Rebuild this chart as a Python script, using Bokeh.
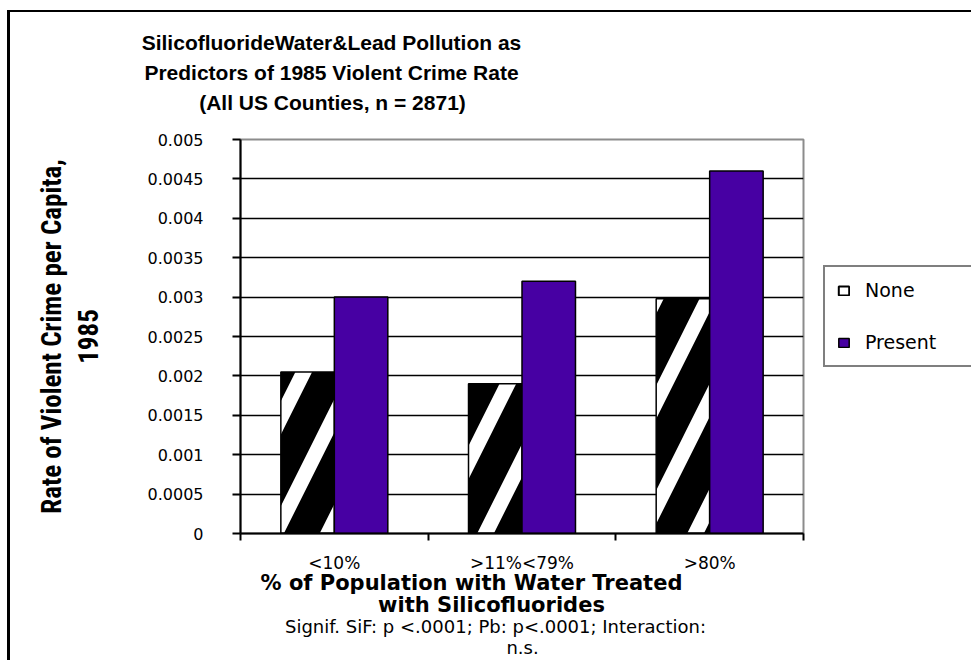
from bokeh.plotting import figure
from bokeh.models import FixedTicker, Legend, LegendItem, ColumnDataSource, LinearAxis
from bokeh.embed import file_html
from bokeh.resources import INLINE

# ---------------- data ----------------
categories = ["<10%", ">11%<79%", ">80%"]
none_values = [0.00205, 0.0019, 0.00298]
present_values = [0.0030, 0.0032, 0.0046]
series_names = ["None", "Present"]
y_ticks = [0, 0.0005, 0.001, 0.0015, 0.002, 0.0025, 0.003, 0.0035, 0.004, 0.0045, 0.005]
y_tick_labels = ["0", "0.0005", "0.001", "0.0015", "0.002", "0.0025", "0.003",
                 "0.0035", "0.004", "0.0045", "0.005"]
title_lines = ["SilicofluorideWater&Lead Pollution as",
               "Predictors of 1985 Violent Crime Rate",
               "(All US Counties, n = 2871)"]
y_title = "Rate of Violent Crime per Capita,\n1985"
x_title_lines = ["% of Population with Water Treated", "with Silicofluorides"]
note_lines = ["Signif. SiF: p <.0001; Pb: p<.0001; Interaction:", "n.s."]

# ---------------- layout constants (page px) ----------------
OX, OY = 10, 12            # canvas origin on the page
CW, CH = 958, 648          # intended canvas size
FL, FT, FW, FH = 240, 139, 563, 394   # plot frame on the page
NCAT = len(categories)
YMAX = y_ticks[-1]
BAR_W = 0.285
COND_FONT = "Roboto Condensed, DejaVu Sans Condensed, Liberation Sans Narrow, sans-serif"


def dx(px):
    """page x (px) -> data x"""
    return (px - FL) / FW * NCAT


p = figure(frame_width=FW, frame_height=FH, x_range=(0, NCAT), y_range=(0, YMAX),
           output_backend="svg", toolbar_location=None,
           min_border_left=FL - OX, min_border_right=CW - (FL - OX) - FW,
           min_border_top=FT - OY, min_border_bottom=CH - (FT - OY) - FH)
p.styles = {"margin-left": "7px", "margin-top": "10px",
            "border-left": "3px solid black", "border-top": "2px solid black"}
p.background_fill_color = "white"
p.border_fill_color = "white"
p.outline_line_color = "#8c8c8c"
p.outline_line_width = 2

idx = list(range(NCAT))
src = ColumnDataSource(dict(
    cat=categories,
    x_none=[i + 0.5 - BAR_W / 2 for i in idx],
    x_present=[i + 0.5 + BAR_W / 2 for i in idx],
    none=none_values,
    present=present_values,
))

r_none = p.vbar(x="x_none", top="none", width=BAR_W, source=src,
                fill_color="white", hatch_pattern="right_diagonal_line",
                hatch_color="black", hatch_scale=105, hatch_weight=32,
                line_color="black", line_width=1.5)
r_present = p.vbar(x="x_present", top="present", width=BAR_W, source=src,
                   fill_color="#4700A3", line_color="black", line_width=1.5)
# legend key for "None": plain white box (zero-height, hidden under the axis)
r_none_key = p.vbar(x="x_none", top=0, bottom=0, width=BAR_W, source=src,
                    fill_color="white", line_color="black", line_width=2)

# ---------------- axes ----------------
yax = p.yaxis[0]
yax.ticker = FixedTicker(ticks=y_ticks)
yax.major_label_overrides = {t: l for t, l in zip(y_ticks, y_tick_labels)}
yax.major_tick_out = 8
yax.major_tick_in = 0
yax.minor_tick_out = 0
yax.minor_tick_in = 0
yax.axis_line_width = 2
yax.major_tick_line_width = 2
yax.major_label_standoff = 29
yax.major_label_text_font = "DejaVu Sans"
yax.major_label_text_font_size = "16px"
yax.major_label_text_color = "black"
yax.axis_label = y_title
yax.axis_label_text_font = COND_FONT
yax.axis_label_text_font_style = "bold"
yax.axis_label_text_font_size = "27px"
yax.axis_label_text_line_height = 1.15
yax.axis_label_standoff = 40
yax.axis_label_text_color = "black"

xax = p.xaxis[0]
centers = [i + 0.5 for i in idx]
bounds = list(range(NCAT + 1))
xax.ticker = FixedTicker(ticks=centers, minor_ticks=bounds)
xax.major_label_overrides = {c: l for c, l in zip(centers, categories)}
xax.major_tick_out = 0
xax.major_tick_in = 0
xax.minor_tick_out = 7
xax.minor_tick_in = 0
xax.minor_tick_line_width = 2
xax.minor_tick_line_color = "black"
xax.axis_line_width = 2
xax.major_label_standoff = 12
xax.major_label_text_font = "DejaVu Sans"
xax.major_label_text_font_size = "17px"
xax.major_label_text_color = "black"

p.xgrid.visible = False
p.ygrid.ticker = FixedTicker(ticks=y_ticks)
p.ygrid.grid_line_color = "black"
p.ygrid.grid_line_width = 1.5


# ---------------- free text lines, each carried by a bare axis ----------------
def text_axis(text, center_px, place, standoff, font, size, bold):
    t = dx(center_px)
    ax = LinearAxis(ticker=FixedTicker(ticks=[t], minor_ticks=[]),
                    major_label_overrides={t: text})
    ax.axis_line_color = None
    ax.major_tick_line_color = None
    ax.minor_tick_line_color = None
    ax.major_tick_in = 0
    ax.major_tick_out = 0
    ax.minor_tick_in = 0
    ax.minor_tick_out = 0
    ax.major_label_standoff = standoff
    ax.major_label_text_font = font
    ax.major_label_text_font_size = size
    ax.major_label_text_font_style = "bold" if bold else "normal"
    ax.major_label_text_color = "black"
    p.add_layout(ax, place)


# title: closest line first (stacked outward from the frame)
title_centers = [331, 331, 332]
title_standoffs = [4, 4, 26]
for line, cx, so in reversed(list(zip(title_lines, title_centers, title_standoffs))):
    text_axis(line, cx, "above", so, "Liberation Sans", "21px", True)

for line, cx, so in zip(x_title_lines, [471, 491], [-5, -5]):
    text_axis(line, cx, "below", so, "DejaVu Sans", "21px", True)

for line, cx, so in zip(note_lines, [495, 522], [-4, -3]):
    text_axis(line, cx, "below", so, "DejaVu Sans", "18px", False)

# ---------------- legend ----------------
legend = Legend(items=[LegendItem(label=series_names[0], renderers=[r_none_key]),
                       LegendItem(label=series_names[1], renderers=[r_present])],
                location=(20, FT + FH - 367),
                orientation="vertical",
                border_line_color="black", border_line_width=2,
                background_fill_color="white", background_fill_alpha=1,
                glyph_width=13, glyph_height=11, label_standoff=15,
                label_width=95, label_height=20, spacing=30, padding=12, margin=0,
                label_text_font="DejaVu Sans", label_text_font_size="19px",
                label_text_color="black")
p.add_layout(legend, "right")

open("out.html", "w").write(file_html(p, INLINE))
